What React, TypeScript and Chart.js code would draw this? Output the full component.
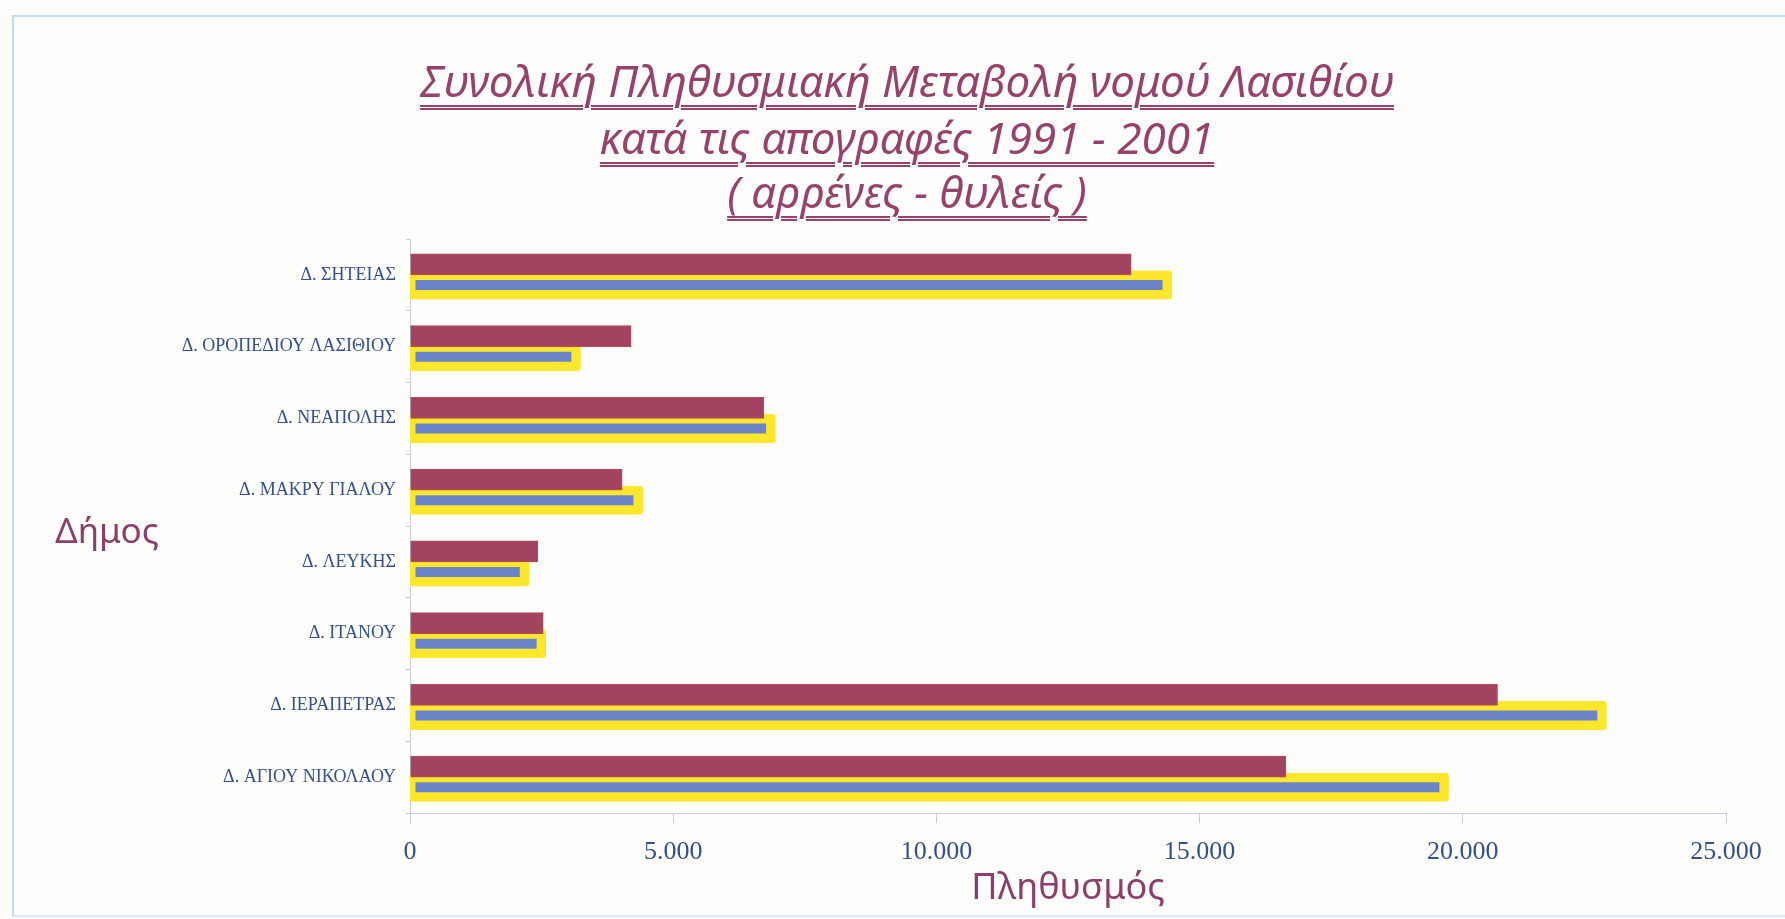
import React, { useEffect, useRef } from "react";
import { Chart, registerables } from "chart.js";

Chart.register(...registerables);

const categories = [
  "Δ. ΣΗΤΕΙΑΣ",
  "Δ. ΟΡΟΠΕΔΙΟΥ ΛΑΣΙΘΙΟΥ",
  "Δ. ΝΕΑΠΟΛΗΣ",
  "Δ. ΜΑΚΡΥ ΓΙΑΛΟΥ",
  "Δ. ΛΕΥΚΗΣ",
  "Δ. ΙΤΑΝΟΥ",
  "Δ. ΙΕΡΑΠΕΤΡΑΣ",
  "Δ. ΑΓΙΟΥ ΝΙΚΟΛΑΟΥ",
];
const series1991 = [13700, 4200, 6720, 4030, 2430, 2530, 20660, 16640];
const series2001 = [14390, 3160, 6860, 4340, 2180, 2500, 22650, 19650];
const xTicks = [0, 5000, 10000, 15000, 20000, 25000];

const titleLines = [
  "Συνολική Πληθυσμιακή Μεταβολή νομού Λασιθίου",
  "κατά τις απογραφές 1991 - 2001",
  "( αρρένες - θυλείς )",
];
const yTitle = "Δήμος";
const xTitle = "Πληθυσμός";

const fmt = (v: number) => String(v).replace(/\B(?=(\d{3})+(?!\d))/g, ".");

const W = 1785;
const H = 919;

export default function App() {
  const ref = useRef<HTMLCanvasElement | null>(null);

  useEffect(() => {
    if (!ref.current) return;
    const chart = new Chart(ref.current, {
      type: "bar",
      data: {
        labels: categories,
        datasets: [
          {
            label: "1991",
            data: series1991,
            backgroundColor: "#a2445f",
            borderColor: "#b94b58",
            borderWidth: 1,
            barThickness: 21,
          } as any,
          {
            label: "2001",
            data: series2001,
            backgroundColor: "#6a83c9",
            borderColor: "#fde72d",
            borderWidth: 9.5,
            borderSkipped: false,
            borderRadius: 3,
            barThickness: 20,
            inflateAmount: 4.5,
          } as any,
        ],
      },
      options: {
        indexAxis: "y",
        animation: false,
        responsive: false,
        maintainAspectRatio: false,
        layout: { padding: { top: 239, right: 59, left: 0, bottom: 0 } },
        plugins: {
          legend: { display: false },
          title: { display: false },
          tooltip: { enabled: false },
        },
        scales: {
          x: {
            min: 0,
            max: 25000,
            afterBuildTicks: (s: any) => {
              s.ticks = xTicks.map((v) => ({ value: v }));
            },
            afterFit: (s: any) => {
              s.height = H - 813;
            },
            ticks: {
              color: "#34508c",
              font: { family: "'Liberation Serif', serif", size: 26 },
              padding: 14,
              maxRotation: 0,
              autoSkip: false,
              callback: (v: any) => fmt(Number(v)),
            },
            grid: {
              drawOnChartArea: false,
              drawTicks: true,
              tickLength: 10,
              tickColor: "#c9cce0",
            },
            border: { color: "#c9cce0", width: 1 },
          },
          y: {
            afterFit: (s: any) => {
              s.width = 410;
            },
            ticks: {
              color: "#34508c",
              font: { family: "'Liberation Serif', serif", size: 18 },
              padding: 10,
              autoSkip: false,
            },
            grid: {
              drawOnChartArea: false,
              drawTicks: true,
              tickLength: 4,
              tickColor: "#c9cce0",
            },
            border: { color: "#c9cce0", width: 1 },
          },
        },
      } as any,
    });
    return () => chart.destroy();
  }, []);

  const titleStyle = (cy: number): React.CSSProperties => ({
    position: "absolute",
    left: 0,
    width: 1814,
    top: cy - 28,
    height: 56,
    lineHeight: "56px",
    textAlign: "center",
    fontFamily: "'Noto Sans', sans-serif",
    fontStyle: "italic",
    fontSize: 44,
    color: "#96426b",
    textDecoration: "underline double",
    textDecorationThickness: "1.5px",
    textUnderlineOffset: "8px",
    whiteSpace: "nowrap",
  });

  return (
    <div
      style={{
        position: "absolute",
        left: 0,
        top: 0,
        width: W,
        height: H,
        background: "#fdfdfb",
        overflow: "hidden",
      }}
    >
      <div
        style={{
          position: "absolute",
          left: 12,
          top: 15,
          width: W,
          height: H - 17,
          borderLeft: "2px solid #bcdcf0",
          borderTop: "2px solid #bcdcf0",
          borderBottom: "2px solid #d6ebf7",
          boxSizing: "border-box",
        }}
      />
      <canvas
        ref={ref}
        width={W}
        height={H}
        style={{ position: "absolute", left: 0, top: 0, width: W, height: H }}
      />
      <div style={titleStyle(80)}>{titleLines[0]}</div>
      <div style={titleStyle(137)}>{titleLines[1]}</div>
      <div style={titleStyle(191)}>{titleLines[2]}</div>
      <div
        style={{
          position: "absolute",
          left: 7,
          width: 200,
          top: 508,
          height: 44,
          lineHeight: "44px",
          textAlign: "center",
          fontFamily: "'Noto Sans', sans-serif",
          fontSize: 35,
          color: "#8c3f6b",
        }}
      >
        {yTitle}
      </div>
      <div
        style={{
          position: "absolute",
          left: 868,
          width: 400,
          top: 864,
          height: 44,
          lineHeight: "44px",
          textAlign: "center",
          fontFamily: "'Noto Sans', sans-serif",
          fontSize: 36,
          color: "#8c3f6b",
        }}
      >
        {xTitle}
      </div>
    </div>
  );
}
